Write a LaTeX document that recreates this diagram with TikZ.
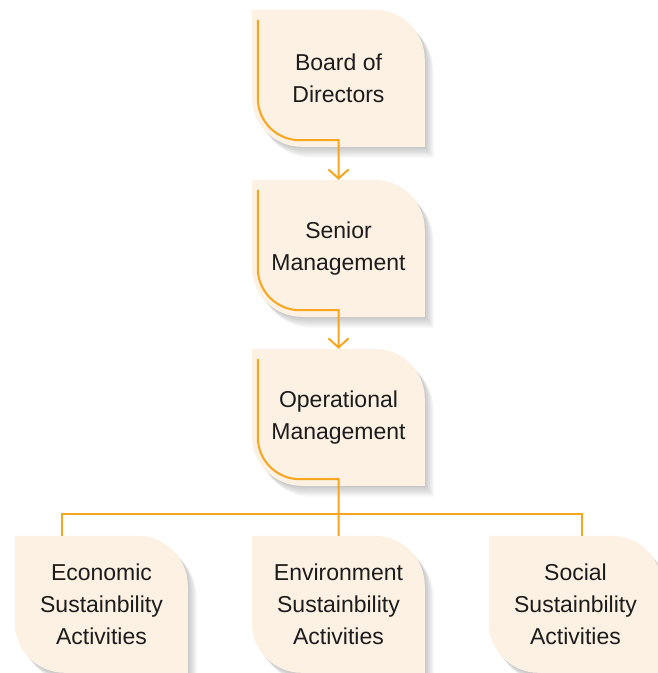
\documentclass[tikz,border=0pt]{standalone}
\usepackage{fontspec}
\setmainfont{Liberation Sans}
\usepackage{xcolor}
\usetikzlibrary{arrows.meta,backgrounds}
\definecolor{cream}{HTML}{FDF1E3}
\definecolor{amber}{HTML}{F8A51F}
\definecolor{ink}{HTML}{1C1C1C}
\newcommand\leafpath[3]{([xshift=#2,yshift=#3]#1.north west) -- ++(123,0)
arc[start angle=90,end angle=0,radius=50] -- ++(0,-87) -- ++(-123,0)
arc[start angle=270,end angle=180,radius=50] -- cycle}
\newcommand\hook[1]{([xshift=6pt,yshift=-10pt]#1.north west)
-- ([xshift=6pt,yshift=49pt]#1.south west)
arc[start angle=180,end angle=270,radius=42] -- ([yshift=7pt]#1.south)}
\tikzset{
leafnode/.style={minimum width=173pt,minimum height=137pt,inner sep=0pt,
align=center,text=ink,font=\fontsize{23}{32}\selectfont},
flow/.style={draw=amber,line width=2pt},
}

\begin{document}
\begin{tikzpicture}[x=1pt,y=1pt]
\useasboundingbox (0,0) rectangle (657,673);

\node[leafnode] (board) at (338.5,594.5) {Board of\\Directors};
\node[leafnode] (senior) at (338.5,424.5) {Senior\\Management};
\node[leafnode] (ops) at (338.5,255.5) {Operational\\Management};
\node[leafnode] (econ) at (101.5,68.5) {Economic\\Sustainbility\\Activities};
\node[leafnode] (env) at (338.5,68.5) {Environment\\Sustainbility\\Activities};
\node[leafnode] (soc) at (575.5,68.5) {Social\\Sustainbility\\Activities};

\begin{pgfonlayer}{background}
\foreach \n in {board,senior,ops,econ,env,soc}{
\foreach \d in {1,...,10}
\fill[black,opacity=0.025] \leafpath{\n}{0.9pt*\d}{-1.1pt*\d};
\fill[cream] \leafpath{\n}{0pt}{0pt};
}
\end{pgfonlayer}

\draw[flow,-{Straight Barb[length=9pt,width=20pt]}] \hook{board} -- (senior.north);
\draw[flow,-{Straight Barb[length=9pt,width=20pt]}] \hook{senior} -- (ops.north);
\draw[flow] \hook{ops} -- (env.north);

\draw[flow] ([xshift=47pt]econ.north west) --++(0,22) -| ([xshift=93pt]soc.north west);
\end{tikzpicture}
\end{document}
